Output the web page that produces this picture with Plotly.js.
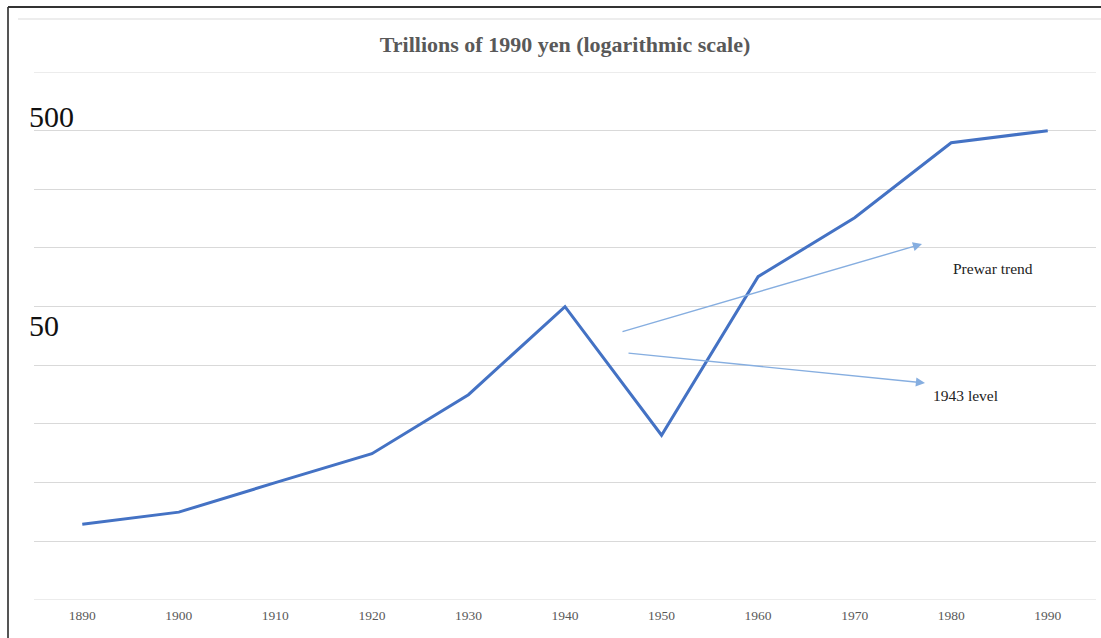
<!DOCTYPE html>
<html>
<head>
<meta charset="utf-8">
<script src="https://cdn.plot.ly/plotly-3.0.1.min.js"></script>
<style>
html,body{margin:0;padding:0;background:#fff;}
#chart{width:1101px;height:638px;}
</style>
</head>
<body>
<div id="chart"></div>
<script>
const years = ["1890","1900","1910","1920","1930","1940","1950","1960","1970","1980","1990"];
const gdp = [2.9, 3.4, 5.0, 7.3, 15.8, 50, 9.3, 74, 160, 427, 500];
const gridVals = [500, 232, 108, 50, 23.2, 10.8, 5, 2.32];
const edgeGridVals = [1077, 1.077];
const axisLabels = ["500", "50"];
const titleText = "Trillions of 1990 yen (logarithmic scale)";
const arrowLabels = ["Prewar trend", "1943 level"];

const serif = "Liberation Serif, Times New Roman, serif";
const W = 1101, H = 638;
const L = 34, R = 1096, T = 72, B = 600;
function px(x){ return (x - L) / (R - L); }
function py(y){ return (B - y) / (B - T); }

const annotations = [
  {xref:'paper', yref:'paper', x:px(27), y:py(117), xanchor:'left', yanchor:'middle',
   text:axisLabels[0], showarrow:false, font:{family:serif, size:30, color:'#111'}},
  {xref:'paper', yref:'paper', x:px(27), y:py(325), xanchor:'left', yanchor:'middle',
   text:axisLabels[1], showarrow:false, font:{family:serif, size:30, color:'#111'}},
  // arrows
  {xref:'paper', yref:'paper', x:px(922), y:py(244), axref:'pixel', ayref:'pixel',
   ax:621-922, ay:332-244, showarrow:true, arrowhead:2, arrowsize:1.3, arrowwidth:1.4,
   arrowcolor:'#86aee0', text:''},
  {xref:'paper', yref:'paper', x:px(925), y:py(383), axref:'pixel', ayref:'pixel',
   ax:627-925, ay:353-383, showarrow:true, arrowhead:2, arrowsize:1.3, arrowwidth:1.4,
   arrowcolor:'#86aee0', text:''},
  {xref:'paper', yref:'paper', x:px(951), y:py(268), xanchor:'left', yanchor:'middle',
   text:arrowLabels[0], showarrow:false, font:{family:serif, size:15.5, color:'#222'}},
  {xref:'paper', yref:'paper', x:px(931), y:py(395), xanchor:'left', yanchor:'middle',
   text:arrowLabels[1], showarrow:false, font:{family:serif, size:15.5, color:'#222'}}
];

const shapes = [
  {type:'line', xref:'paper', yref:'paper', x0:px(8), x1:px(8), y0:py(7), y1:py(638), line:{color:'#555', width:2}},
  {type:'line', xref:'paper', yref:'paper', x0:px(8), x1:px(1101), y0:py(7), y1:py(7), line:{color:'#333', width:2}},
  {type:'line', xref:'paper', yref:'paper', x0:px(18), x1:px(1101), y0:py(19), y1:py(19), line:{color:'#dcdcdc', width:1.2}}
];
edgeGridVals.forEach(v => shapes.push({type:'line', layer:'below', xref:'paper', yref:'y',
  x0:0, x1:1, y0:v, y1:v, line:{color:'#d9d9d9', width:1.2}}));

const trace = {
  x: years, y: gdp, type:'scatter', mode:'lines',
  line:{color:'#4472c4', width:3}, hoverinfo:'x+y'
};

const layout = {
  width:W, height:H,
  margin:{l:L, r:W-R, t:T, b:H-B},
  paper_bgcolor:'#fff', plot_bgcolor:'#fff',
  showlegend:false,
  title:{text:'<b>'+titleText+'</b>', x:0.5, xref:'paper', y:1-44/H, yanchor:'middle',
    font:{family:serif, size:22, color:'#595959'}},
  xaxis:{type:'category', range:[-0.5, 10.5], showgrid:false, zeroline:false, showline:false, ticks:'',
    tickfont:{family:serif, size:13.5, color:'#595959'}, ticklabelstandoff:5},
  yaxis:{type:'log', range:[Math.log10(1.077), Math.log10(1077)], tickmode:'array',
    tickvals:gridVals, showticklabels:false, gridcolor:'#d9d9d9', gridwidth:1.2,
    zeroline:false, showline:false, ticks:''},
  annotations: annotations,
  shapes: shapes
};

Plotly.newPlot('chart', [trace], layout, {staticPlot:true, displayModeBar:false});
</script>
</body>
</html>
